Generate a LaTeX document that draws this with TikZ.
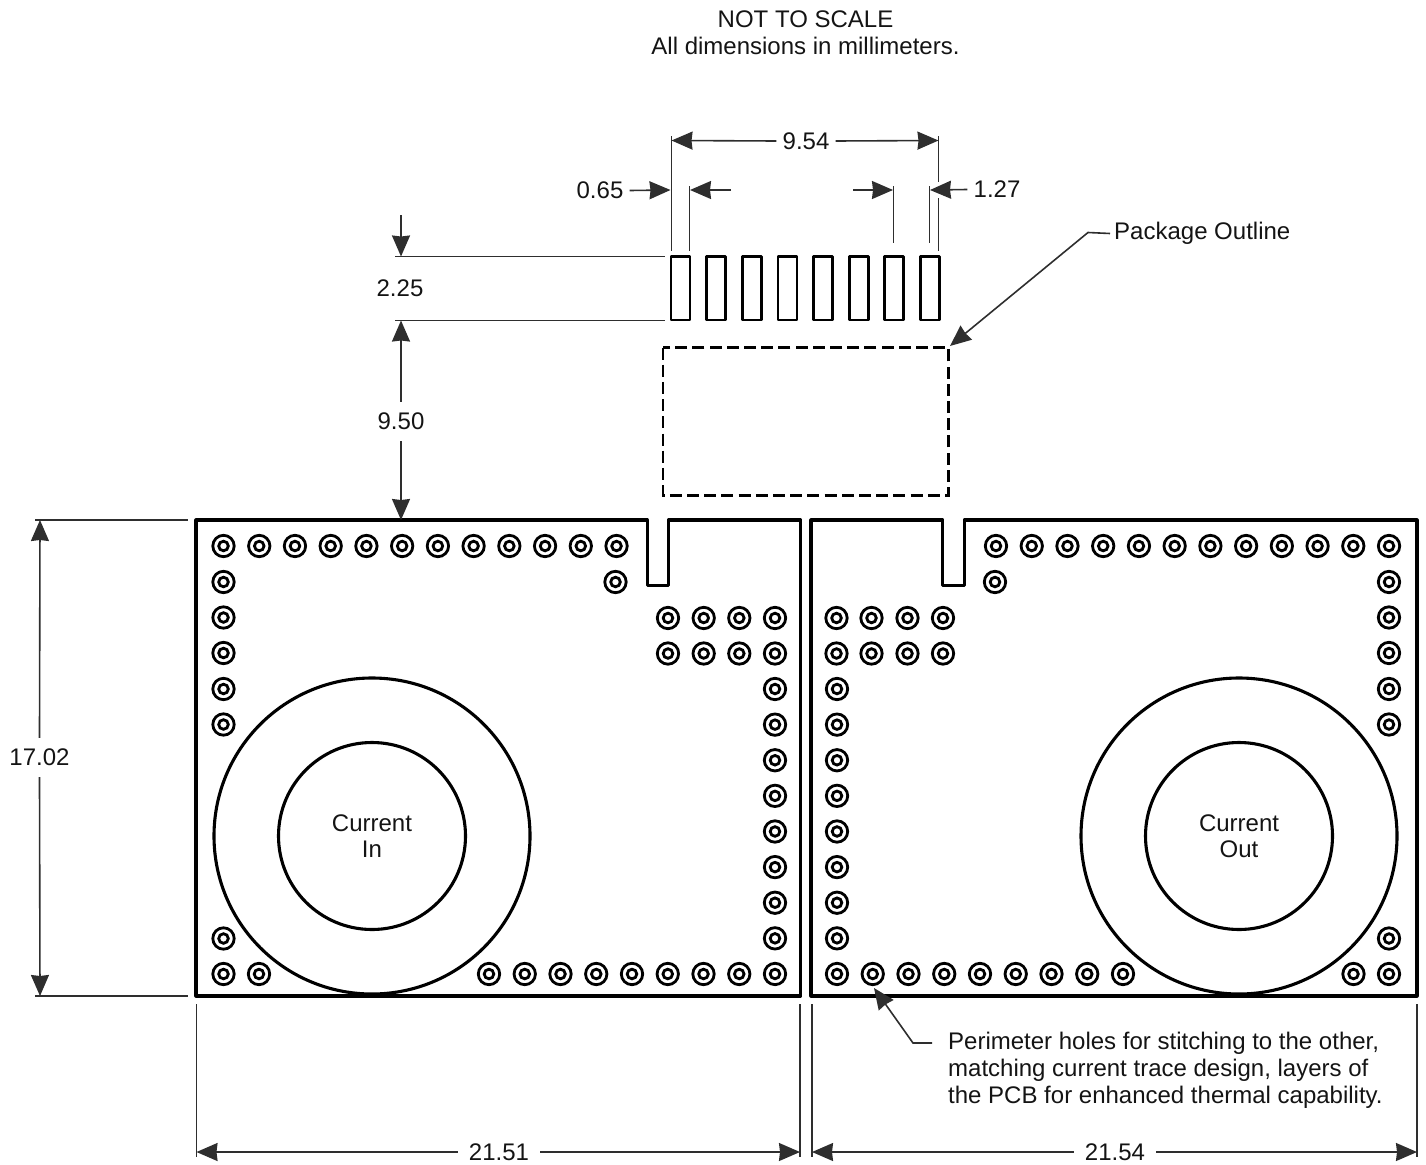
\documentclass[tikz,border=0pt]{standalone}
\usepackage{fontspec}
\setmainfont{Liberation Sans}
\usetikzlibrary{arrows.meta}
\tikzset{
  x=1pt,y=-1pt,
  txt/.style={font=\fontsize{24}{27}\selectfont,text=black!92,inner sep=0pt},
  dimtxt/.style={txt,inner xsep=6pt,inner ysep=11pt},
  thinl/.style={line width=1.6pt,color=black!82},
  arr/.style={thinl,-{Stealth[length=21pt,width=18pt,inset=1pt]}},
  outl/.style={line width=3.1pt,line join=round,color=black},
  pad/.style={line width=2.8pt,line join=round,color=black},
  dashbox/.style={line width=2.8pt,color=black,dash pattern=on 12pt off 5.2pt},
  viaring/.style={line width=2.8pt,color=black}
}
\newcommand{\viaAt}[2]{\draw[viaring] (#1,#2) circle[radius=10.7pt] (#1,#2) circle[radius=4.8pt];}
\begin{document}
\begin{tikzpicture}
\useasboundingbox (0,0) rectangle (1426,1164);
% heading
\node[txt] (t1) at (805.5,19) {NOT TO SCALE};
\node[txt] (t2) at (805.5,46) {All dimensions in millimeters.};
% pads
\foreach \i in {0,...,7}{
  \pgfmathsetmacro{\xa}{671+35.63*\i}
  \draw[pad] (\xa,256.5) rectangle ++(19,63.5);
}
% package outline
\draw[dashbox] (663,347.5) rectangle (948.5,495.5);
% panels
\draw[outl] (196,520) -- (647.3,520) -- (647.3,585.5) -- (668.5,585.5) -- (668.5,520) -- (800.6,520) -- (800.6,996) -- (196,996) -- cycle;
\draw[outl] (811,520) -- (942.8,520) -- (942.8,585.5) -- (964.2,585.5) -- (964.2,520) -- (1417,520) -- (1417,996) -- (811,996) -- cycle;
\draw[outl] (372,836) circle[radius=158pt] (372,836) circle[radius=93.5pt];
\draw[outl] (1239,836) circle[radius=158pt] (1239,836) circle[radius=93.5pt];
\node[txt,align=center,font=\fontsize{24}{26.5}\selectfont] (cin) at (372,836) {Current\\In};
\node[txt,align=center,font=\fontsize{24}{26.5}\selectfont] (cout) at (1239,836) {Current\\Out};
% vias left
\foreach \i in {0,...,11}{\pgfmathsetmacro{\xa}{223.5+35.73*\i}\viaAt{\xa}{546}}
\foreach \y in {582,617.5,653,689,724.5}{\viaAt{223.5}{\y}}
\viaAt{615.5}{582}
\foreach \x in {668,703.7,739.3,775}{\viaAt{\x}{618}\viaAt{\x}{653.5}}
\foreach \i in {0,...,8}{\pgfmathsetmacro{\ya}{689+35.62*\i}\viaAt{775}{\ya}}
\viaAt{223.5}{938.5}\viaAt{223.5}{974}\viaAt{259}{974}
\foreach \i in {0,...,7}{\pgfmathsetmacro{\xa}{489+35.75*\i}\viaAt{\xa}{974}}
% vias right
\foreach \i in {0,...,11}{\pgfmathsetmacro{\xa}{996+35.73*\i}\viaAt{\xa}{546}}
\viaAt{995}{582}
\foreach \y in {582,617.5,653,689,724.5}{\viaAt{1389}{\y}}
\foreach \x in {836.5,871.5,907.5,943}{\viaAt{\x}{618}\viaAt{\x}{653.5}}
\foreach \i in {0,...,8}{\pgfmathsetmacro{\ya}{689+35.62*\i}\viaAt{837}{\ya}}
\foreach \i in {1,...,8}{\pgfmathsetmacro{\xa}{837+35.75*\i}\viaAt{\xa}{974}}
\viaAt{1389}{938.5}\viaAt{1389}{974}\viaAt{1353.5}{974}
% dimension labels
\node[dimtxt] (d954) at (806,141) {9.54};
\node[dimtxt] (d065) at (600,190.5) {0.65};
\node[dimtxt] (d127) at (997,189.5) {1.27};
\node[txt] (d225) at (400,288) {2.25};
\node[dimtxt] (d950) at (401,421.5) {9.50};
\node[dimtxt] (d1702) at (39.5,757.5) {17.02};
\node[dimtxt,inner xsep=11pt] (d2151) at (499,1152) {21.51};
\node[dimtxt,inner xsep=11pt] (d2154) at (1115,1152) {21.54};
\node[txt,anchor=west] (lpkg) at (1114,233.5) {Package Outline};
\node[txt,anchor=north west,align=left] (lper) at (948,1032) {Perimeter holes for stitching to the other,\\matching current trace design, layers of\\the PCB for enhanced thermal capability.};
% named end points
\coordinate (a1) at (671.5,140.5); \coordinate (a2) at (938.5,140.5);
\coordinate (b1) at (670.5,190); \coordinate (b2) at (690,190); \coordinate (b2s) at (731,190);
\coordinate (c1s) at (853,190); \coordinate (c1) at (893,190); \coordinate (c2) at (930,190);
\coordinate (e1s) at (401,215); \coordinate (e1) at (401,256.5); \coordinate (e2) at (401,320.5); \coordinate (e3) at (401,520);
\coordinate (f1) at (40,520); \coordinate (f2) at (40,996);
\coordinate (g1) at (196.5,1152); \coordinate (g2) at (800,1152); \coordinate (g3) at (812,1152); \coordinate (g4) at (1417,1152);
\coordinate (p1) at (1088,232.5); \coordinate (p2) at (950,346);
\coordinate (q1) at (913,1043); \coordinate (q2) at (874,988);
% extension lines
\draw[thinl] (671.5,136) -- (671.5,251);
\draw[thinl] (938.5,136) -- (938.5,182) (938.5,198) -- (938.5,251);
\draw[thinl] (689.5,186) -- (689.5,251);
\draw[thinl] (893.5,186) -- (893.5,243);
\draw[thinl] (929.5,186) -- (929.5,243);
\draw[thinl] (395,256.5) -- (665,256.5);
\draw[thinl] (395,320.5) -- (665,320.5);
\draw[thinl] (35,520) -- (188,520);
\draw[thinl] (35,996) -- (188,996);
\draw[thinl] (196.5,1004) -- (196.5,1157);
\draw[thinl] (800,1004) -- (800,1157);
\draw[thinl] (812,1004) -- (812,1157);
\draw[thinl] (1417,1004) -- (1417,1157);
% dimension arrows
\draw[arr] (d954.west) -- (a1);
\draw[arr] (d954.east) -- (a2);
\draw[arr] (d065.east) -- (b1);
\draw[arr] (b2s) -- (b2);
\draw[arr] (c1s) -- (c1);
\draw[arr] (d127.west) -- (c2);
\draw[arr] (e1s) -- (e1);
\draw[arr] (d950.north) -- (e2);
\draw[arr] (d950.south) -- (e3);
\draw[arr] (d1702.north) -- (f1);
\draw[arr] (d1702.south) -- (f2);
\draw[arr] (d2151.west) -- (g1);
\draw[arr] (d2151.east) -- (g2);
\draw[arr] (d2154.west) -- (g3);
\draw[arr] (d2154.east) -- (g4);
% leaders
\draw[arr] (lpkg.west) ++(-4,0) -- (p1) -- (p2);
\draw[arr] (lper.north west) ++(-16,11) -- (q1) -- (q2);
\end{tikzpicture}
\end{document}
